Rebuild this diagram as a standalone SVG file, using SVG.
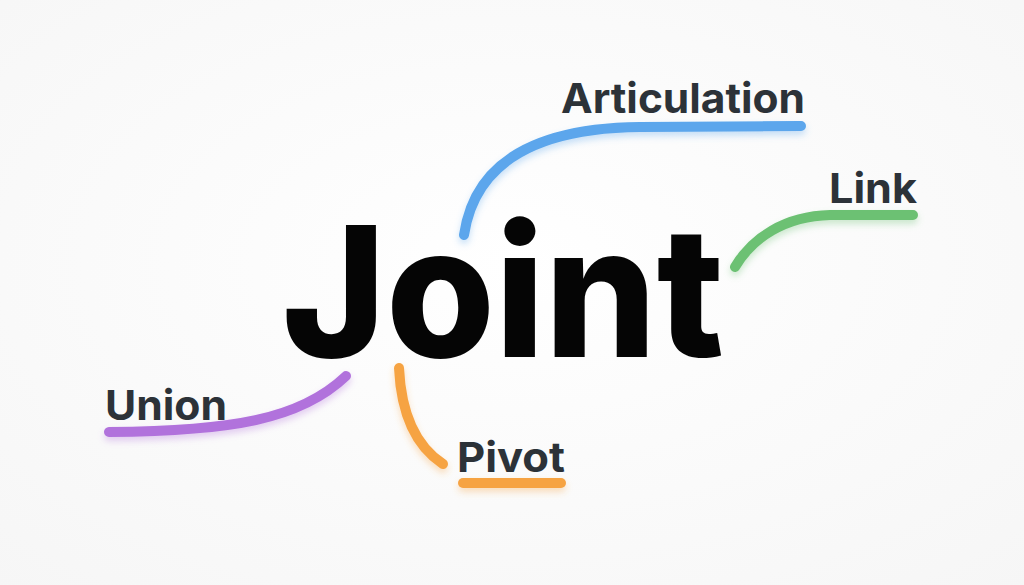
<svg xmlns="http://www.w3.org/2000/svg" width="1024" height="585" viewBox="0 0 1024 585">
  <defs>
    <radialGradient id="bg" cx="50%" cy="45%" r="75%">
      <stop offset="0" stop-color="#ffffff"/>
      <stop offset="1" stop-color="#f6f6f6"/>
    </radialGradient>
    <filter id="glow" filterUnits="userSpaceOnUse" x="0" y="0" width="1024" height="585">
      <feGaussianBlur in="SourceGraphic" stdDeviation="3.5" result="b"/>
      <feOffset in="b" dx="0" dy="4" result="o"/>
      <feComponentTransfer in="o" result="s"><feFuncA type="linear" slope="0.35"/></feComponentTransfer>
      <feMerge><feMergeNode in="s"/><feMergeNode in="SourceGraphic"/></feMerge>
    </filter>
    <style>
      .main { font-family: Inter, "Liberation Sans", sans-serif; font-weight: 800; font-size: 182px; fill: #050505; }
      .lbl { font-family: Inter, "Liberation Sans", sans-serif; font-weight: 700; font-size: 41px; fill: #2c3238; }
      .con { fill: none; stroke-width: 10; stroke-linecap: round; filter: url(#glow); }
    </style>
  </defs>
  <rect width="1024" height="585" fill="url(#bg)"/>

  <g id="connectors">
    <path class="con" stroke="#5ba6ec" d="M 801 126 L 640 127 C 540 128 475 160 464 235"/>
    <path class="con" stroke="#6cc173" d="M 913 215 L 830 215 C 785 216 752 238 735 267"/>
    <path class="con" stroke="#b172dc" d="M 109 432 C 230 431 300 420 346 376"/>
    <path class="con" stroke="#f6a343" d="M 399 368 C 401 410 414 445 443 464"/>
    <path class="con" stroke="#f6a343" d="M 463 483 L 561 483"/>
  </g>

  <g id="joint">
    <text class="main" x="282" y="357" textLength="442" lengthAdjust="spacingAndGlyphs">Joint</text>
  </g>
  <g id="articulation">
    <text class="lbl" x="561" y="113" textLength="244" lengthAdjust="spacingAndGlyphs">Articulation</text>
  </g>
  <g id="link">
    <text class="lbl" x="829" y="203" textLength="88" lengthAdjust="spacingAndGlyphs">Link</text>
  </g>
  <g id="union">
    <text class="lbl" x="105" y="420" textLength="122" lengthAdjust="spacingAndGlyphs">Union</text>
  </g>
  <g id="pivot">
    <text class="lbl" x="457" y="472" textLength="108" lengthAdjust="spacingAndGlyphs">Pivot</text>
  </g>
</svg>
